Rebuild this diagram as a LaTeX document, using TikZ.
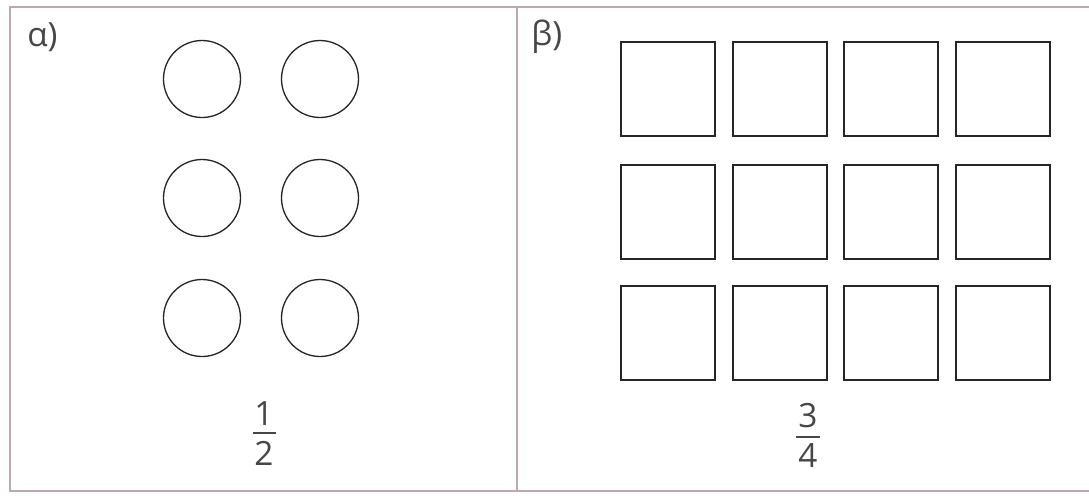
\documentclass[tikz,border=0pt]{standalone}
\usepackage{fontspec}
\setmainfont{Open Sans}
\usepackage{xcolor}
\usepackage{tikz}
\definecolor{framepink}{HTML}{BFA7AE}
\definecolor{inkgray}{HTML}{474747}
\def\circd{1.54cm}
\def\sqside{1.88cm}
\tikzset{
  px/.style={x=0.02cm, y=-0.02cm},
  ring/.style={draw=black!85, line width=0.75pt, circle, minimum size=\circd, inner sep=0pt},
  tile/.style={draw=black!85, line width=0.95pt, rectangle, minimum size=\sqside, inner sep=0pt},
  digit/.style={text=inkgray, font=\fontsize{19}{22}\selectfont, inner sep=0pt},
  tag/.style={text=inkgray, font=\fontsize{19}{22}\selectfont, inner sep=0pt, anchor=west},
  fbar/.style={draw=inkgray, line width=1pt},
  frame/.style={draw=framepink, line width=0.8pt}
}

\begin{document}
\begin{tikzpicture}[px]
		\useasboundingbox (0,0) rectangle (1089,495);
		% frame
		\draw[frame] (1089,7) -- (10,7) -- (10,491) -- (1089,491);
		\draw[frame] (517,7) -- (517,491);
		% part a
		\node[tag] (taga) at (27,37) {α)};
		\node[ring] (c11) at (202,79) {};
		\node[ring] (c12) at (320,79) {};
		\node[ring] (c21) at (202,198) {};
		\node[ring] (c22) at (320,198) {};
		\node[ring] (c31) at (202,318) {};
		\node[ring] (c32) at (320,318) {};
		\node[digit] (numa) at (264,414) {1};
		\node[digit] (dena) at (264,453) {2};
		\draw[fbar] (253,433) -- (276,433);
		% part b
		\node[tag] (tagb) at (531,37) {β)};
		\node[tile] (s11) at (668,89) {};
		\node[tile] (s12) at (780,89) {};
		\node[tile] (s13) at (891,89) {};
		\node[tile] (s14) at (1003,89) {};
		\node[tile] (s21) at (668,212) {};
		\node[tile] (s22) at (780,212) {};
		\node[tile] (s23) at (891,212) {};
		\node[tile] (s24) at (1003,212) {};
		\node[tile] (s31) at (668,333) {};
		\node[tile] (s32) at (780,333) {};
		\node[tile] (s33) at (891,333) {};
		\node[tile] (s34) at (1003,333) {};
		\node[digit] (numb) at (808,416) {3};
		\node[digit] (denb) at (808,456) {4};
		\draw[fbar] (796,437) -- (820,437);
	\end{tikzpicture}
\end{document}
